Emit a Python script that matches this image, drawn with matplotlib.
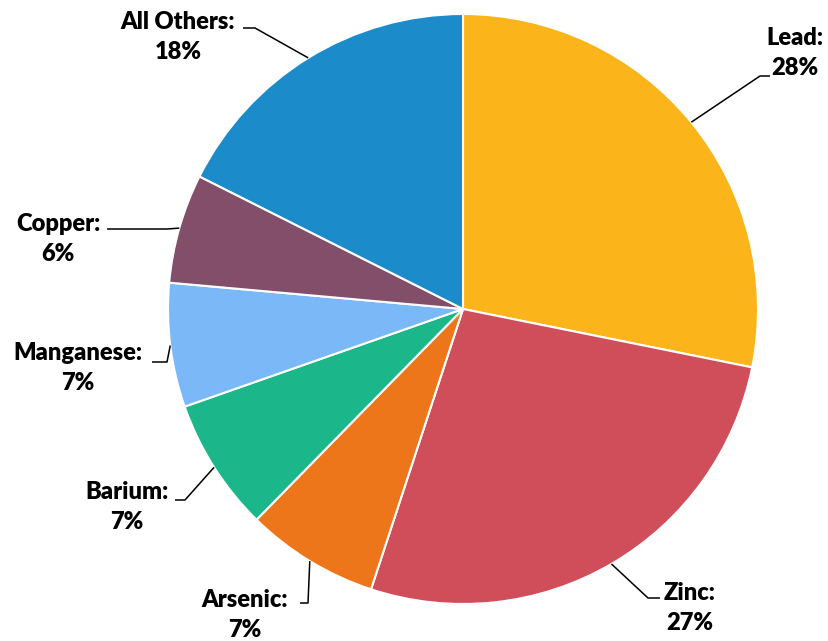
import numpy as np
import matplotlib
matplotlib.use("Agg")
import matplotlib.pyplot as plt

categories = ["Lead", "Zinc", "Arsenic", "Barium", "Manganese", "Copper", "All Others"]
values = [28.2, 26.9, 7.3, 7.3, 6.8, 6.0, 17.6]
colors = ["#FBB51B", "#D04E5A", "#EC7619", "#1BB78A", "#7AB8F8", "#834E6A", "#1B8BCA"]

W, H = 829, 641
fig = plt.figure(figsize=(W / 100, H / 100), dpi=100)
ax = fig.add_axes([0, 0, 1, 1])

cx, cy, R = 463, H - 309, 295
wedges, _ = ax.pie(values, colors=colors, startangle=90, counterclock=False,
                   center=(cx, cy), radius=R,
                   wedgeprops=dict(edgecolor="white", linewidth=1.5))
ax.set_xlim(0, W)
ax.set_ylim(0, H)
ax.set_aspect("equal")
ax.axis("off")

# layout: (elbow x, elbow y, horizontal end x, label center x, label center y) in pixel coords
layout = [
    (760, 76, 770, 795, 53),
    (648, 598, 660, 690, 608),
    (308, 603, 300, 245, 615),
    (185, 500, 175, 127, 507),
    (167, 362, 152, 78, 368),
    (167, 229, 107, 58, 239),
    (255, 28, 243, 178, 37),
]

for w, cat, val, (ex, ey, hx, lx, ly) in zip(wedges, categories, values, layout):
    ang = np.deg2rad((w.theta1 + w.theta2) / 2)
    px = cx + R * np.cos(ang)
    py = cy + R * np.sin(ang)
    ax.plot([px, ex, hx], [py, H - ey, H - ey], color="black", lw=1.1,
            solid_capstyle="butt")
    ax.text(lx, H - ly, f"{cat}:\n{round(val)}%", ha="center", va="center",
            fontsize=17, fontweight="heavy", family="Lato",
            linespacing=1.42)

fig.savefig("out.png", dpi=100)
